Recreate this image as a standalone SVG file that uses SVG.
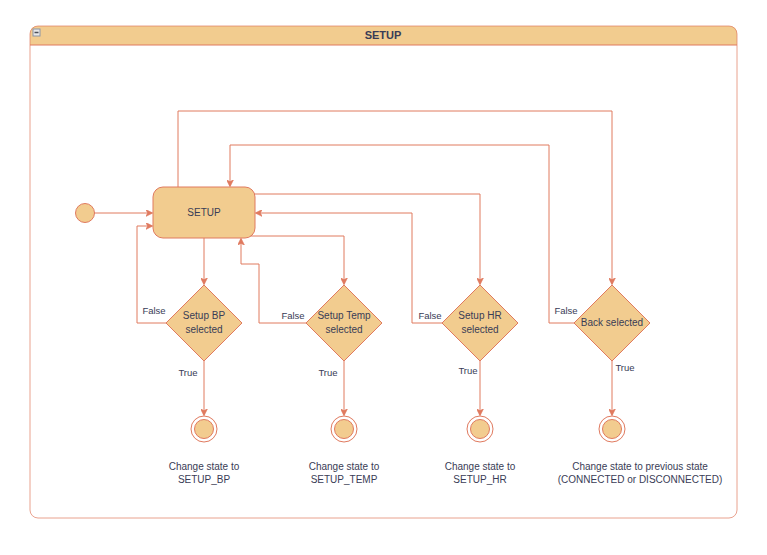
<svg xmlns="http://www.w3.org/2000/svg" width="767" height="555" viewBox="0 0 767 555">
<defs>
<marker id="arr" viewBox="0 0 10 10" refX="9" refY="5" markerWidth="7" markerHeight="7" orient="auto" markerUnits="userSpaceOnUse">
<path d="M0,0 L10,5 L0,10 L3,5 Z" fill="#E07A5F" stroke="#E07A5F" stroke-width="1"/>
</marker>
<style>
text{font-family:"Liberation Sans",Arial,sans-serif;fill:#393C56}
.n{font-size:10px;text-anchor:middle}
.l{font-size:9.5px;text-anchor:middle}
.e{fill:none;stroke:#E07A5F;stroke-width:1;marker-end:url(#arr)}
.f{fill:#F2CC8F;stroke:#E07A5F;stroke-width:1}
</style>
</defs>
<rect width="767" height="555" fill="#ffffff"/>
<g id="container">
<path d="M30,45 V34 Q30,26 38,26 H729 Q737,26 737,34 V45 Z" fill="#F2CC8F" stroke="none"/>
<rect x="30" y="26" width="707" height="492" rx="8" fill="none" stroke="#E07A5F" stroke-opacity="0.7"/>
<line x1="30" y1="45" x2="737" y2="45" stroke="#E07A5F"/>
<rect x="33" y="29" width="7" height="7" fill="#e8e8e8" stroke="#8a94a6"/>
<line x1="34.5" y1="32.5" x2="38.5" y2="32.5" stroke="#4a4f5a" stroke-width="1.5"/>
<text x="383" y="39" style="font-size:11px;font-weight:bold;text-anchor:middle">SETUP</text>
</g>
<g id="connectors">
<path class="e" d="M94,213 H152"/>
<path class="e" d="M204,238 V284"/>
<path class="e" d="M166,323 H137 V226 H152"/>
<path class="e" d="M204,361 V415"/>
<path class="e" d="M250,236 H344 V284"/>
<path class="e" d="M306,323 H259 V264 H241 V239"/>
<path class="e" d="M344,361 V415"/>
<path class="e" d="M254,194 H480 V284"/>
<path class="e" d="M442,323 H412 V213 H256"/>
<path class="e" d="M480,361 V415"/>
<path class="e" d="M178,187 V111 H612 V284"/>
<path class="e" d="M574,323 H549 V145 H230 V186"/>
<path class="e" d="M612,361 V415"/>
<text class="l" x="154" y="314">False</text>
<text class="l" x="293" y="319">False</text>
<text class="l" x="430" y="319">False</text>
<text class="l" x="566" y="314">False</text>
<text class="l" x="188" y="376">True</text>
<text class="l" x="328" y="376">True</text>
<text class="l" x="468" y="374">True</text>
<text class="l" x="625" y="371">True</text>
</g>
<g id="initial">
<circle class="f" cx="85" cy="213" r="9.5"/>
</g>
<g id="setup">
<rect class="f" x="153" y="187" width="102" height="51" rx="10"/>
<text class="n" x="204" y="216">SETUP</text>
</g>
<g id="d_bp">
<polygon class="f" points="204,285 242,323 204,361 166,323"/>
<text class="n" x="204" y="319">Setup BP</text>
<text class="n" x="204" y="333">selected</text>
</g>
<g id="d_temp">
<polygon class="f" points="344,285 382,323 344,361 306,323"/>
<text class="n" x="344" y="319">Setup Temp</text>
<text class="n" x="344" y="333">selected</text>
</g>
<g id="d_hr">
<polygon class="f" points="480,285 518,323 480,361 442,323"/>
<text class="n" x="480" y="319">Setup HR</text>
<text class="n" x="480" y="333">selected</text>
</g>
<g id="d_back">
<polygon class="f" points="612,285 650,323 612,361 574,323"/>
<text class="n" x="612" y="326">Back selected</text>
</g>
<g id="end_bp">
<circle cx="204" cy="429" r="13" fill="none" stroke="#E07A5F"/>
<circle class="f" cx="204" cy="429" r="9.5"/>
<text class="n" x="204" y="470">Change state to</text>
<text class="n" x="204" y="483">SETUP_BP</text>
</g>
<g id="end_temp">
<circle cx="344" cy="429" r="13" fill="none" stroke="#E07A5F"/>
<circle class="f" cx="344" cy="429" r="9.5"/>
<text class="n" x="344" y="470">Change state to</text>
<text class="n" x="344" y="483">SETUP_TEMP</text>
</g>
<g id="end_hr">
<circle cx="480" cy="429" r="13" fill="none" stroke="#E07A5F"/>
<circle class="f" cx="480" cy="429" r="9.5"/>
<text class="n" x="480" y="470">Change state to</text>
<text class="n" x="480" y="483">SETUP_HR</text>
</g>
<g id="end_back">
<circle cx="612" cy="429" r="13" fill="none" stroke="#E07A5F"/>
<circle class="f" cx="612" cy="429" r="9.5"/>
<text class="n" x="640" y="470">Change state to previous state</text>
<text class="n" x="640" y="483">(CONNECTED or DISCONNECTED)</text>
</g>
</svg>
